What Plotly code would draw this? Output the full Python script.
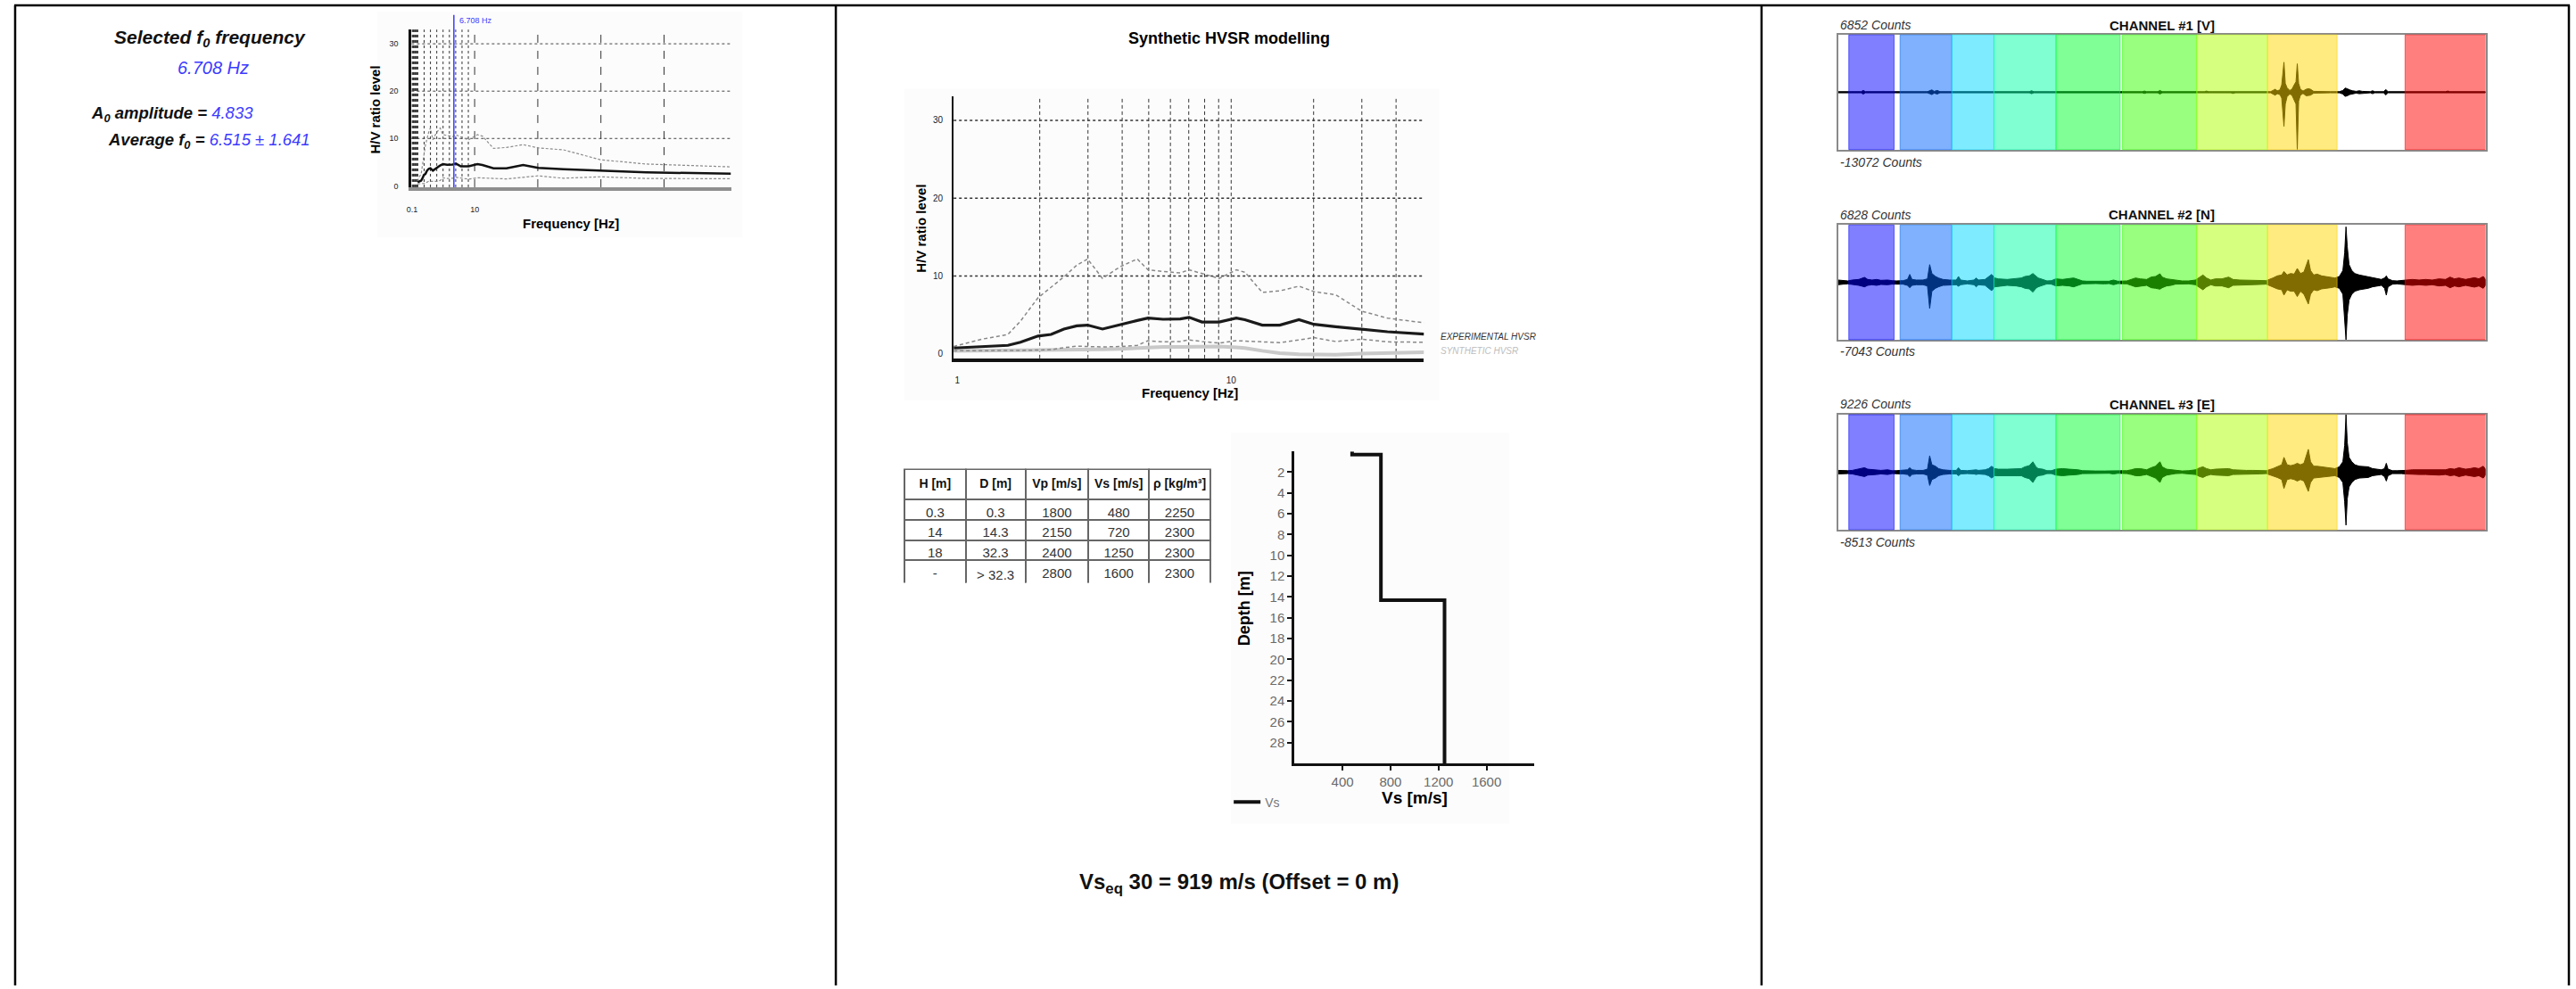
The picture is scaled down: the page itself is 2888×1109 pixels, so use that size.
import math
import plotly.graph_objects as go

W, H = 2888, 1109
FONT = "Liberation Sans, Arial, Helvetica, sans-serif"
BLUE = "#3b3bff"

# ---------------- summary values ----------------
F0_SELECTED = 6.708
A0_AMPLITUDE = 4.833
F0_AVERAGE = 6.515
F0_STD = 1.641
VS_EQ = 919
OFFSET = 0

# ---------------- HVSR curves ----------------
FREQ = [0.97, 1.23, 1.53, 1.70, 1.97, 2.20, 2.45, 2.73, 2.99, 3.39, 3.93, 4.54, 4.97, 5.64,
        6.52, 7.02, 7.82, 9.04, 10.44, 11.22, 12.99, 15.04, 17.68, 20.07, 24.07, 29.93, 37.20, 50.6]
HV_EXPERIMENTAL = [0.76, 0.95, 1.1, 1.5, 2.3, 2.5, 3.2, 3.6, 3.7, 3.2, 3.8, 4.3, 4.6, 4.45,
                   4.5, 4.7, 4.1, 4.1, 4.6, 4.4, 3.7, 3.7, 4.4, 3.8, 3.5, 3.2, 2.85, 2.55]
HV_UPPER = [0.95, 1.9, 2.5, 4.2, 7.2, 8.6, 9.9, 11.4, 12.2, 9.7, 11.2, 12.2, 10.8, 10.6,
            10.4, 10.8, 10.3, 9.7, 10.8, 10.5, 7.9, 8.1, 8.7, 8.0, 7.6, 5.5, 4.6, 4.0]
HV_LOWER = [0.4, 0.4, 0.4, 0.45, 0.5, 0.55, 0.8, 1.0, 0.95, 0.9, 0.95, 1.1, 1.7, 1.55,
            1.6, 1.8, 1.6, 1.4, 1.7, 1.65, 1.5, 1.45, 1.8, 2.1, 1.6, 1.9, 1.55, 1.5]
HV_SYNTHETIC = [0.4, 0.42, 0.45, 0.45, 0.48, 0.5, 0.5, 0.55, 0.55, 0.6, 0.65, 0.75, 0.85, 0.9,
                0.9, 0.92, 0.95, 0.95, 0.85, 0.76, 0.4, 0.1, -0.05, -0.1, -0.1, 0.05, 0.15, 0.2]

GRID_HV = [10, 20, 30]
HV_TICKS = [0, 10, 20, 30]
GRID_FREQ = [2, 3, 4, 5, 6, 7, 8, 9, 10, 20, 30, 40]
GRID_FREQ_SMALL = [0.1, 0.2, 0.3, 0.4, 0.5, 0.6, 0.7, 0.8, 0.9,
                   1, 2, 3, 4, 5, 6, 7, 8, 9, 10, 20, 30, 40]

# ---------------- layer model ----------------
TABLE_HEADER = ["H [m]", "D [m]", "Vp [m/s]", "Vs [m/s]", "ρ [kg/m³]"]
TABLE_H = ["0.3", "14", "18", "-"]
TABLE_D = ["0.3", "14.3", "32.3", "> 32.3"]
TABLE_VP = [1800, 2150, 2400, 2800]
TABLE_VS = [480, 720, 1250, 1600]
TABLE_RHO = [2250, 2300, 2300, 2300]
LAYER_TOP = [0, 0.3, 14.3, 32.3]
PROFILE_DEPTH = 30
VS_TICKS = [400, 800, 1200, 1600]
DEPTH_TICKS = [2, 4, 6, 8, 10, 12, 14, 16, 18, 20, 22, 24, 26, 28]

# ---------------- raw traces ----------------
CHANNEL_NAMES = ["CHANNEL #1 [V]", "CHANNEL #2 [N]", "CHANNEL #3 [E]"]
CHANNEL_MAX = [6852, 6828, 9226]
CHANNEL_MIN = [-13072, -7043, -8513]
RECORD_LENGTH = 1200  # s

WINDOW_START = [20, 115, 211, 289, 404, 527, 665, 796, 1051]
WINDOW_END = [104, 211, 289, 404, 523, 665, 796, 925, 1200]
WINDOW_COLORS = ["0,0,255", "0,100,255", "0,215,255", "0,255,165", "0,255,45",
                 "50,255,0", "175,255,0", "255,215,0", "255,0,0"]

CH1_TIME = [0, 42.7, 46.8, 50.9, 165.8, 169.9, 174.0, 178.1, 184.0, 189.0, 354.6, 358.7, 362.8,
            563.9, 568.0, 572.1, 592.6, 596.7, 600.8, 678.8, 682.9, 687.0, 728.1, 732.2, 736.3,
            802.0, 806.0, 810.1, 814.2, 819.1, 822.4, 826.5, 829.0, 832.3, 837.2, 841.3, 845.5,
            848.8, 851.2, 853.7, 857.0, 861.9, 867.6, 871.7, 875.8, 881.6,
            912.7, 929.2, 935.7, 939.8, 943.9, 948.0, 953.8, 960.3, 966.1, 971.8,
            986.6, 990.7, 994.8, 1011.2, 1015.3, 1019.4, 1126.1, 1130.2, 1134.3, 1200]
CH1_UPPER = [135, 135, 406, 135, 135, 338, 541, 203, 406, 135, 135, 338, 135,
             135, 270, 135, 135, 406, 135, 135, 270, 135, 135, 270, 135,
             135, 406, 676, 338, 541, 1690, 6852, 2028, 1014, 406, 676, 1690,
             2366, 6490, 2028, 676, 270, 676, 811, 676, 203,
             135, 135, 406, 946, 811, 541, 338, 203, 338, 203,
             135, 338, 135, 135, 608, 135, 135, 270, 135, 135]
CH1_LOWER = [-135, -135, -406, -135, -135, -338, -541, -203, -406, -135, -135, -338, -135,
             -135, -270, -135, -135, -406, -135, -135, -270, -135, -135, -270, -135,
             -135, -406, -676, -338, -541, -1352, -7774, -2704, -1014, -406, -676, -1690,
             -2704, -13072, -2028, -676, -270, -811, -811, -676, -203,
             -135, -135, -406, -946, -811, -541, -338, -203, -338, -203,
             -135, -338, -135, -135, -608, -135, -135, -270, -135, -135]

CH23_TIME = [0, 9.8, 18.1, 26.3, 38.6, 49.2, 55.0, 63.2, 71.4, 79.6,
             91.9, 100.1, 108.3, 120.7, 128.9, 133.0, 137.1, 145.3, 157.6, 165.8,
             169.9, 174.0, 180.6, 186.3, 194.5, 206.8, 219.2, 223.3, 227.4, 239.7,
             252.0, 256.1, 260.2, 272.5, 279.1, 284.8, 290.6, 297.1, 313.5, 330.0,
             339.8, 346.4, 354.6, 361.2, 366.9, 371.0, 379.2, 387.4, 395.6, 403.8,
             416.1, 428.5, 436.7, 444.9, 453.1, 461.3, 477.7, 494.1, 502.3, 510.5,
             518.7, 535.2, 543.4, 551.6, 559.8, 572.1, 580.3, 588.5, 596.7, 600.8,
             609.0, 617.2, 625.4, 637.8, 650.1, 662.4, 670.6, 676.4, 682.9, 691.1,
             699.3, 711.6, 724.0, 732.2, 744.5, 756.8, 769.1, 781.4, 793.7, 806.0,
             814.2, 822.4, 826.5, 832.3, 838.9, 845.5, 851.2, 857.0, 863.5, 871.7,
             875.8, 881.6, 888.1, 896.3, 904.5, 912.7, 921.0, 929.2, 935.7, 939.0,
             941.5, 943.9, 947.2, 952.2, 957.9, 966.1, 974.3, 982.5, 990.7, 998.9,
             1007.1, 1012.9, 1016.2, 1019.4, 1027.6, 1035.9, 1044.1, 1052.3, 1064.6, 1076.9,
             1089.2, 1101.5, 1113.8, 1126.1, 1134.3, 1142.5, 1150.8, 1163.1, 1171.4, 1179.6,
             1187.7, 1195.9, 1200.0]
CH2_UPPER = [291, 218, 182, 291, 364, 619, 364, 291, 364, 255,
             291, 218, 182, 218, 364, 983, 364, 291, 291, 437,
             2184, 1092, 728, 546, 364, 291, 291, 728, 291, 182,
             291, 546, 291, 364, 728, 983, 546, 437, 364, 437,
             546, 728, 801, 1092, 728, 546, 364, 182, 218, 437,
             364, 437, 546, 364, 182, 146, 146, 182, 146, 291,
             146, 182, 364, 546, 437, 364, 655, 728, 1056, 655,
             437, 364, 218, 182, 182, 291, 655, 910, 546, 291,
             437, 437, 655, 364, 291, 291, 291, 255, 218, 546,
             801, 910, 1347, 910, 1092, 1019, 1711, 1092, 1274, 2803,
             1456, 910, 1019, 801, 728, 655, 546, 728, 1456, 3640,
             6828, 4368, 2184, 1456, 1092, 910, 801, 728, 546, 437,
             364, 546, 801, 437, 218, 182, 218, 291, 364, 291,
             364, 291, 437, 364, 655, 437, 546, 364, 510, 582,
             437, 728, 364]
CH2_LOWER = [-291, -218, -182, -291, -364, -546, -364, -291, -364, -255,
             -291, -218, -182, -218, -364, -655, -364, -291, -291, -437,
             -3203, -1092, -728, -546, -364, -291, -291, -473, -291, -182,
             -291, -546, -291, -364, -728, -1019, -546, -437, -364, -437,
             -546, -728, -801, -1201, -728, -546, -364, -182, -218, -437,
             -364, -437, -546, -364, -182, -146, -146, -182, -146, -291,
             -146, -182, -364, -546, -437, -364, -655, -728, -837, -655,
             -437, -364, -218, -182, -182, -291, -655, -910, -546, -291,
             -437, -437, -655, -364, -291, -291, -291, -255, -218, -546,
             -801, -910, -1565, -910, -1092, -1092, -1747, -1092, -1456, -2657,
             -1456, -910, -1019, -801, -728, -655, -546, -728, -1456, -4368,
             -7043, -4004, -2184, -1456, -1092, -910, -801, -728, -546, -437,
             -364, -728, -1565, -546, -218, -182, -218, -291, -364, -291,
             -364, -291, -437, -364, -655, -437, -546, -364, -510, -582,
             -437, -728, -364]
CH3_UPPER = [286, 238, 238, 286, 476, 714, 476, 381, 381, 286,
             381, 238, 238, 286, 381, 714, 381, 286, 286, 476,
             2618, 1190, 952, 571, 381, 286, 286, 714, 286, 238,
             286, 381, 286, 381, 571, 952, 571, 476, 476, 571,
             571, 857, 1047, 1666, 857, 571, 476, 238, 238, 476,
             571, 476, 476, 381, 238, 190, 190, 190, 190, 286,
             190, 238, 381, 571, 571, 381, 714, 952, 1666, 857,
             476, 381, 238, 190, 238, 381, 714, 857, 571, 381,
             476, 571, 571, 381, 286, 286, 286, 286, 238, 571,
             857, 1190, 2380, 1190, 1047, 1190, 1428, 1190, 1428, 3665,
             1666, 952, 952, 857, 762, 666, 571, 857, 1666, 4284,
             9226, 4760, 2380, 1666, 1190, 952, 857, 857, 571, 476,
             381, 571, 1428, 476, 238, 238, 238, 286, 381, 381,
             381, 381, 476, 381, 571, 476, 714, 476, 571, 714,
             571, 952, 476]
CH3_LOWER = [-286, -238, -238, -286, -476, -714, -476, -381, -381, -286,
             -381, -238, -238, -286, -381, -714, -381, -286, -286, -476,
             -2142, -1190, -952, -571, -381, -286, -286, -571, -286, -238,
             -286, -381, -286, -381, -571, -952, -571, -476, -476, -571,
             -571, -857, -1047, -1666, -857, -571, -476, -238, -238, -476,
             -571, -476, -476, -381, -238, -190, -190, -190, -190, -286,
             -190, -238, -381, -571, -571, -381, -714, -952, -1666, -857,
             -476, -381, -238, -190, -238, -381, -714, -857, -571, -381,
             -476, -571, -571, -381, -286, -286, -286, -286, -238, -571,
             -857, -1190, -2618, -1190, -1047, -1190, -1428, -1190, -1428, -3094,
             -1666, -952, -952, -857, -762, -666, -571, -857, -1666, -4760,
             -8513, -4284, -2380, -1666, -1190, -952, -857, -857, -571, -476,
             -381, -714, -1428, -571, -238, -238, -238, -286, -381, -381,
             -381, -381, -476, -381, -571, -476, -714, -476, -571, -714,
             -571, -952, -476]

CHANNEL_TIME = [CH1_TIME, CH23_TIME, CH23_TIME]
CHANNEL_UPPER = [CH1_UPPER, CH2_UPPER, CH3_UPPER]
CHANNEL_LOWER = [CH1_LOWER, CH2_LOWER, CH3_LOWER]


# ---------------- helpers (page positions in pixels) ----------------
def px(x):
    return x / W


def py(y):
    return 1 - y / H


def note(text, x, y, size, color="black", xanchor="center", yanchor="middle", angle=0):
    return dict(text=text, x=px(x), y=py(y), xref="paper", yref="paper",
                xanchor=xanchor, yanchor=yanchor, showarrow=False, textangle=angle,
                font=dict(family=FONT, size=size, color=color))


fig = go.Figure()
shapes = []
annotations = []

# faint chart image backgrounds (drawn first so that grids sit on top)
for (x0, y0, x1, y1) in [(418, 13, 828, 267), (1010, 100, 1611, 450), (1377, 487, 1690, 927)]:
    shapes.append(dict(type="rect", xref="paper", yref="paper", x0=px(x0), x1=px(x1),
                       y0=py(y1), y1=py(y0), fillcolor="#fcfcfc", line=dict(width=0),
                       layer="below"))

# ---------------- small HVSR chart (x / y) ----------------
fig.add_trace(go.Scatter(x=FREQ, y=HV_UPPER, xaxis="x", yaxis="y", mode="lines",
                         line=dict(color="#8c8c8c", width=1.2, dash="3px,2px"),
                         showlegend=False, hoverinfo="skip"))
fig.add_trace(go.Scatter(x=FREQ, y=HV_LOWER, xaxis="x", yaxis="y", mode="lines",
                         line=dict(color="#8c8c8c", width=1.2, dash="3px,2px"),
                         showlegend=False, hoverinfo="skip"))
fig.add_trace(go.Scatter(x=FREQ, y=HV_EXPERIMENTAL, xaxis="x", yaxis="y", mode="lines",
                         line=dict(color="#111111", width=2.5),
                         showlegend=False, hoverinfo="skip"))
for g in GRID_HV:
    shapes.append(dict(type="line", xref="x domain", yref="y", x0=0, x1=1, y0=g, y1=g,
                       line=dict(color="#444", width=1, dash="dot"), layer="below"))
for g in GRID_FREQ_SMALL:
    shapes.append(dict(type="line", xref="x", yref="y domain", x0=g, x1=g, y0=0, y1=1,
                       line=dict(color="#333", width=1, dash="dot" if g < 10 else "dash"),
                       layer="below"))
shapes.append(dict(type="line", xref="x", yref="paper", x0=F0_SELECTED, x1=F0_SELECTED,
                   y0=py(210.7), y1=py(16.7), line=dict(color=BLUE, width=1.5)))
annotations.append(note(f"{F0_SELECTED:.3f} Hz", 508, 23.3, 9, BLUE, xanchor="left"))
annotations.append(note("<b>H/V ratio level</b>", 415.6, 123.3, 15, angle=-90))
annotations.append(note("<b>Frequency [Hz]</b>", 635.3, 251.7, 15))

# ---------------- synthetic HVSR chart (x2 / y2) ----------------
fig.add_trace(go.Scatter(x=FREQ, y=HV_SYNTHETIC, xaxis="x2", yaxis="y2", mode="lines",
                         line=dict(color="#c9c9c9", width=4),
                         showlegend=False, hoverinfo="skip"))
fig.add_trace(go.Scatter(x=FREQ, y=HV_UPPER, xaxis="x2", yaxis="y2", mode="lines",
                         line=dict(color="#888888", width=1.5, dash="4px,3px"),
                         showlegend=False, hoverinfo="skip"))
fig.add_trace(go.Scatter(x=FREQ, y=HV_LOWER, xaxis="x2", yaxis="y2", mode="lines",
                         line=dict(color="#888888", width=1.5, dash="4px,3px"),
                         showlegend=False, hoverinfo="skip"))
fig.add_trace(go.Scatter(x=FREQ, y=HV_EXPERIMENTAL, xaxis="x2", yaxis="y2", mode="lines",
                         line=dict(color="#1a1a1a", width=3.2),
                         showlegend=False, hoverinfo="skip"))
for g in GRID_HV:
    shapes.append(dict(type="line", xref="x2 domain", yref="y2", x0=0, x1=1, y0=g, y1=g,
                       line=dict(color="#333", width=1.5, dash="dot"), layer="below"))
for g in GRID_FREQ:
    shapes.append(dict(type="line", xref="x2", yref="y2 domain", x0=g, x1=g, y0=0, y1=1,
                       line=dict(color="#333", width=1, dash="4px,3px"), layer="below"))
annotations.append(note("<b>Synthetic HVSR modelling</b>", 1374.5, 43.3, 18))
annotations.append(note("<b>H/V ratio level</b>", 1029, 256.7, 15, angle=-90))
annotations.append(note("<b>Frequency [Hz]</b>", 1331, 441.7, 15))
annotations.append(note("<i>EXPERIMENTAL HVSR</i>", 1610.8, 379, 10, "#333", xanchor="left"))
annotations.append(note("<i>SYNTHETIC HVSR</i>", 1610.8, 395, 10, "#bdbdbd", xanchor="left"))

# ---------------- layer table ----------------
NBSP = "\u00a0"
fig.add_trace(go.Table(
    domain=dict(x=[px(1010), px(1354.3)], y=[py(656), py(528.3)]),
    columnwidth=[69, 67, 71, 68, 69],
    header=dict(values=[f"<b>{h.replace(' ', NBSP)}</b>" for h in TABLE_HEADER], height=34,
                align="center", fill_color="white", line=dict(color="#666", width=2),
                font=dict(family=FONT, size=14, color="#111")),
    cells=dict(values=[[str(v).replace(" ", NBSP) for v in col]
                       for col in [TABLE_H, TABLE_D, TABLE_VP, TABLE_VS, TABLE_RHO]],
               height=22.7, align="center", fill_color="white",
               line=dict(color="#666", width=2),
               font=dict(family=FONT, size=15, color="#333")),
))

# ---------------- Vs profile (x3 / y3) ----------------
prof_x = TABLE_VS[:3] + [TABLE_VS[2]]
prof_y = LAYER_TOP[:3] + [PROFILE_DEPTH]
fig.add_trace(go.Scatter(x=prof_x, y=prof_y, xaxis="x3", yaxis="y3", mode="lines",
                         line=dict(color="#111", width=4, shape="vh"), name="Vs",
                         showlegend=True, hoverinfo="skip"))
annotations.append(note("<b>Depth [m]</b>", 1391.7, 685, 18, angle=-90))
annotations.append(note("<b>Vs [m/s]</b>", 1583, 898, 19))

# ---------------- bottom summary ----------------
annotations.append(note(f"<b>Vs<sub>eq</sub> 30 = {VS_EQ} m/s (Offset = {OFFSET} m)</b>",
                        1385.6, 994, 24, "#111"))

# ---------------- left summary text ----------------
annotations.append(note("<b><i>Selected f<sub>0</sub> frequency</i></b>", 229.5, 43.3, 21, "#111"))
annotations.append(note(f"<i>{F0_SELECTED:.3f} Hz</i>", 233, 76.7, 20, BLUE))
annotations.append(note(f"<b><i>A<sub>0</sub> amplitude = </i></b>"
                        f"<i><span style='color:{BLUE}'>{A0_AMPLITUDE:.3f}</span></i>",
                        94, 128.3, 18.5, "#111", xanchor="left"))
annotations.append(note(f"<b><i>Average f<sub>0</sub> = </i></b>"
                        f"<i><span style='color:{BLUE}'>{F0_AVERAGE:.3f} ± {F0_STD:.3f}</span></i>",
                        113, 158.3, 18.5, "#111", xanchor="left"))

# ---------------- channel traces (x4..x6 / y4..y6) ----------------
CH_BOX = [(39.3, 168.3, 28.3, 182.7), (253.3, 382.3, 241.7, 395.0), (466.7, 596.0, 455.0, 610.0)]
layout_axes = {}
for i in range(3):
    n = 4 + i
    t = CHANNEL_TIME[i]
    fig.add_trace(go.Scatter(x=t + t[::-1], y=CHANNEL_UPPER[i] + CHANNEL_LOWER[i][::-1],
                             xaxis=f"x{n}", yaxis=f"y{n}", mode="lines", fill="toself",
                             fillcolor="black", line=dict(color="black", width=1),
                             showlegend=False, hoverinfo="skip"))
    top, bot, lab_top, lab_bot = CH_BOX[i]
    amp = max(abs(CHANNEL_MAX[i]), abs(CHANNEL_MIN[i]))
    layout_axes[f"xaxis{n}"] = dict(domain=[px(2058.9), px(2786.3)], range=[0, RECORD_LENGTH],
                                    anchor=f"y{n}", showline=True, mirror=True,
                                    linecolor="#8a8a8a", linewidth=2, showticklabels=False,
                                    ticks="", showgrid=False, zeroline=False)
    layout_axes[f"yaxis{n}"] = dict(domain=[py(bot), py(top)], range=[-amp, amp],
                                    anchor=f"x{n}", showline=True, mirror=True,
                                    linecolor="#8a8a8a", linewidth=2, showticklabels=False,
                                    ticks="", showgrid=False, zeroline=False)
    for s, e, c in zip(WINDOW_START, WINDOW_END, WINDOW_COLORS):
        shapes.append(dict(type="rect", xref=f"x{n}", yref=f"y{n} domain", x0=s, x1=e,
                           y0=0, y1=1, fillcolor=f"rgba({c},0.5)",
                           line=dict(color=f"rgba({c},0.55)", width=1), layer="above"))
    annotations.append(note(f"<i>{CHANNEL_MAX[i]} Counts</i>", 2059, lab_top, 14, "#333",
                            xanchor="left"))
    annotations.append(note(f"<i>{CHANNEL_MIN[i]} Counts</i>", 2059, lab_bot, 14, "#333",
                            xanchor="left"))
    annotations.append(note(f"<b>{CHANNEL_NAMES[i]}</b>", 2423, lab_top, 15, "#111"))

# ---------------- page frame ----------------
frame_col = "black"
shapes.append(dict(type="line", xref="paper", yref="paper", x0=px(10), x1=px(2881),
                   y0=py(6), y1=py(6), line=dict(color=frame_col, width=2.5)))
for xline in [11, 933, 1973, 2880]:
    shapes.append(dict(type="line", xref="paper", yref="paper", x0=px(xline), x1=px(xline),
                       y0=py(6), y1=0, line=dict(color=frame_col, width=2.5)))

tickfont_small = dict(family=FONT, size=9, color="#222")
fig.update_layout(
    width=W, height=H, margin=dict(l=0, r=0, t=0, b=0),
    paper_bgcolor="white", plot_bgcolor="rgba(0,0,0,0)",
    font=dict(family=FONT),
    xaxis=dict(domain=[px(456.3), px(815.2)], range=[0, 50.6], anchor="y",
               showline=True, linecolor="#8f8f8f", linewidth=4, tickvals=[0.1, 10],
               ticktext=["0.1", "10"], ticks="outside", ticklen=13,
               tickcolor="rgba(0,0,0,0)", tickfont=tickfont_small, showgrid=False,
               zeroline=False),
    yaxis=dict(domain=[py(210.7), py(33.3)], range=[-0.3, 33], anchor="x",
               showline=True, linecolor="#111", linewidth=3, tickvals=HV_TICKS,
               ticks="outside", ticklen=10, tickcolor="rgba(0,0,0,0)",
               tickfont=tickfont_small, showgrid=False, zeroline=False),
    xaxis2=dict(domain=[px(1065.4), px(1593.8)], type="log",
                range=[math.log10(0.97), math.log10(50.6)], anchor="y2",
                showline=True, linecolor="#111", linewidth=3.5, tickvals=[1, 10],
                ticktext=["1", "10"], ticks="outside", ticklen=12,
                tickcolor="rgba(0,0,0,0)", tickfont=dict(family=FONT, size=10, color="#222"),
                showgrid=False, zeroline=False),
    yaxis2=dict(domain=[py(403.3), py(108.3)], range=[-0.57, 33.1], anchor="x2",
                showline=True, linecolor="#111", linewidth=2, tickvals=HV_TICKS,
                ticks="outside", ticklen=8, tickcolor="rgba(0,0,0,0)",
                tickfont=dict(family=FONT, size=10, color="#222"),
                showgrid=False, zeroline=False),
    xaxis3=dict(domain=[px(1448.3), px(1718)], range=[0, 2000], anchor="y3",
                showline=True, linecolor="#111", linewidth=3, tickvals=VS_TICKS,
                ticks="outside", ticklen=5, tickcolor="#111", tickwidth=2,
                tickfont=dict(family=FONT, size=15, color="#6a6a6a"),
                showgrid=False, zeroline=False),
    yaxis3=dict(domain=[py(859), py(508)], range=[PROFILE_DEPTH, 0], anchor="x3",
                showline=True, linecolor="#111", linewidth=3, tickvals=DEPTH_TICKS,
                ticks="outside", ticklen=5, tickcolor="#111", tickwidth=2,
                tickfont=dict(family=FONT, size=15, color="#6a6a6a"),
                showgrid=False, zeroline=False),
    legend=dict(x=px(1375), y=py(903), xanchor="left", yanchor="middle",
                bgcolor="rgba(0,0,0,0)", font=dict(family=FONT, size=14, color="#777")),
    showlegend=True,
    shapes=shapes,
    annotations=annotations,
    **layout_axes,
)

fig.write_html("out.html")
